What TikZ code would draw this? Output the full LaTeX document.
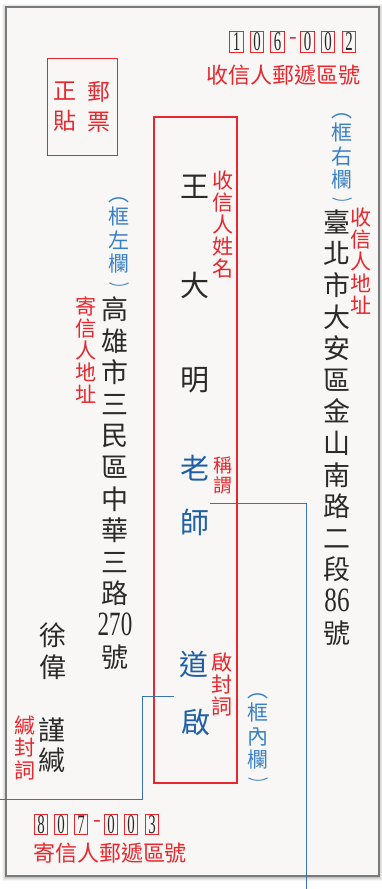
\documentclass[tikz,border=0pt]{standalone}
\usepackage{fontspec}
\usepackage{graphicx}
\newfontfamily\cjk{Noto Sans CJK TC}
\newfontfamily\dig{Liberation Serif}
\definecolor{envred}{HTML}{E8262E}
\definecolor{bluedark}{HTML}{1F5FA8}
\definecolor{bluelabel}{HTML}{3A80C6}
\definecolor{bline}{HTML}{3A73B0}
\definecolor{ink}{HTML}{2A2A2A}
\definecolor{envbg}{HTML}{F8F7F5}
\definecolor{edge}{HTML}{7A7A7A}
\newcommand{\tall}[2]{\scalebox{#1}[1]{#2}}
\newcommand{\closeparen}{\scalebox{1}[0.6]{︶}}
\begin{document}
\begin{tikzpicture}[x=1pt,y=-1pt,
  txt/.style={inner sep=0pt, align=center},
  addr/.style={txt, text=ink, font=\cjk\fontsize{27}{31.6}\selectfont},
  namech/.style={txt, text=ink, font=\cjk\fontsize{29}{30}\selectfont},
  honor/.style={txt, text=bluedark, font=\cjk\fontsize{29}{30}\selectfont},
  redlab/.style={txt, text=envred, font=\cjk\fontsize{21}{22}\selectfont},
  bluelab/.style={txt, text=bluelabel, font=\cjk\fontsize{21}{23.5}\selectfont},
  closep/.style={inner sep=0pt, text=bluelabel, font=\cjk\fontsize{21}{23.5}\selectfont, anchor=base},
  pbox/.style={draw=envred, line width=0.9pt, minimum width=13.5pt, minimum height=20.5pt, inner sep=0pt, text=ink, font=\dig\fontsize{27}{28}\selectfont},
  pdash/.style={inner sep=0pt, text=envred, font=\dig\fontsize{22}{22}\selectfont},
  conn/.style={draw=bline, line width=0.8pt}
]
\useasboundingbox (0,0) rectangle (382,889);
\fill[white] (0,0) rectangle (382,889);
% shadow
\foreach \s/\o in {4/0.04,3/0.05,2/0.07,1/0.09}{
  \fill[black, opacity=\o] (6-\s,7-\s+1) rectangle (379+\s,876+\s+1);
}
\draw[edge, line width=1.2pt, fill=envbg] (6,7) rectangle (379,876);

% top postcode
\node[pbox] (t1) at (236.5,41.7) {\tall{0.55}{1}};
\node[pbox] (t2) at (257,41.7) {\tall{0.55}{0}};
\node[pbox] (t3) at (277.5,41.7) {\tall{0.55}{6}};
\node[pdash] (td) at (293,40.5) {-};
\node[pbox] (t4) at (307.5,41.7) {\tall{0.55}{0}};
\node[pbox] (t5) at (328,41.7) {\tall{0.55}{0}};
\node[pbox] (t6) at (349,41.7) {\tall{0.55}{2}};
\node[txt, text=envred, font=\cjk\fontsize{22}{24}\selectfont] (tlab) at (283.5,75) {收信人郵遞區號};

% stamp
\draw[envred, line width=0.8pt] (47,58) rectangle (117,155);
\node[txt, text=envred, font=\cjk\fontsize{23}{30}\selectfont] (st1) at (99,107) {郵\\票};
\node[txt, text=envred, font=\cjk\fontsize{23}{30}\selectfont] (st2) at (65,107) {正\\貼};

% main name box
\draw[envred, line width=1.7pt] (154,117) rectangle (237,783);
\node[namech] (n1) at (195,187) {王};
\node[namech] (n2) at (195,285) {大};
\node[namech] (n3) at (195,380) {明};
\node[honor] (h1) at (195,468) {老};
\node[honor] (h2) at (195,522) {師};
\node[honor] (q1) at (194,665) {道};
\node[honor] (q2) at (196,722) {啟};
\node[redlab] (lname) at (223,225) {收\\信\\人\\姓\\名};
\node[redlab, font=\cjk\fontsize{19}{20}\selectfont] (ltitle) at (223,475) {稱\\謂};
\node[redlab] (lopen) at (222,684.5) {啟\\封\\詞};
\node[bluelab] (lin) at (258,731.25) {︵\\框\\內\\欄};
\node[closep] (linp) at (258,788) {\closeparen};

% right column
\node[bluelab] (lright) at (342,151.25) {︵\\框\\右\\欄};
\node[closep] (lrightp) at (342,208) {\closeparen};
\node[addr] (raddr) at (337,427.5) {臺\\北\\市\\大\\安\\區\\金\\山\\南\\路\\二\\段\\{\dig\fontsize{34}{32}\selectfont\tall{0.74}{86}}\\號};
\node[redlab] (lraddr) at (361,261) {收\\信\\人\\地\\址};

% left column
\node[bluelab] (lleft) at (119,235.25) {︵\\框\\左\\欄};
\node[closep] (lleftp) at (119,293) {\closeparen};
\node[addr] (laddr) at (115,483) {高\\雄\\市\\三\\民\\區\\中\\華\\三\\路\\{\dig\fontsize{34}{32}\selectfont\tall{0.68}{270}}\\號};
\node[redlab] (lladdr) at (86,350) {寄\\信\\人\\地\\址};
\node[addr, font=\cjk\fontsize{27}{32}\selectfont] (sname) at (53,651) {徐\\偉};
\node[addr, font=\cjk\fontsize{27}{30}\selectfont] (seal) at (52,745) {謹\\緘};
\node[redlab, font=\cjk\fontsize{21}{22.5}\selectfont] (lseal) at (25,748) {緘\\封\\詞};

% bottom postcode
\node[pbox] (b1) at (41,824.5) {\tall{0.55}{8}};
\node[pbox] (b2) at (61,824.5) {\tall{0.55}{0}};
\node[pbox] (b3) at (81,824.5) {\tall{0.55}{7}};
\node[pdash] (bd) at (97,823.3) {-};
\node[pbox] (b4) at (111,824.5) {\tall{0.55}{0}};
\node[pbox] (b5) at (131,824.5) {\tall{0.55}{0}};
\node[pbox] (b6) at (152,824.5) {\tall{0.55}{3}};
\node[txt, text=envred, font=\cjk\fontsize{22}{24}\selectfont] (blab) at (110,853) {寄信人郵遞區號};

% connectors
\coordinate (c1a) at (210,503);
\coordinate (c1b) at (306,503);
\coordinate (c1c) at (306,889);
\draw[conn] (c1a) -- (c1b) -- (c1c);
\coordinate (c2a) at (174,696);
\coordinate (c2b) at (142,696);
\coordinate (c2c) at (142,799);
\coordinate (c2d) at (0,799);
\draw[conn] (c2a) -- (c2b) -- (c2c) -- (c2d);
\end{tikzpicture}
\end{document}
